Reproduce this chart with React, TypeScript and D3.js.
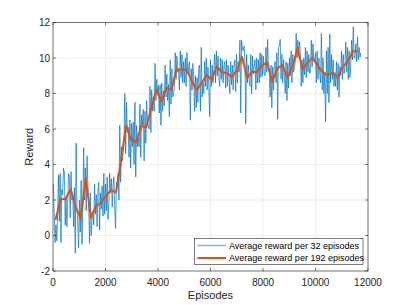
import React from "react";
import * as d3 from "d3";

const xTicks = [0, 2000, 4000, 6000, 8000, 10000, 12000];
const yTicks = [-2, 0, 2, 4, 6, 8, 10, 12];

// Average reward per 192 episodes (one value per 192-episode block)
const avg192 = [
  0.87, 2.04, 2.07, 2.62, 1.6, 0.95, 3.25, 1.0, 1.65, 1.85,
  2.2, 2.55, 2.43, 4.2, 6.2, 5.4, 5.25, 6.15, 6.1, 7.2,
  8.24, 7.56, 8.32, 8.2, 9.36, 9.35, 9.32, 8.75, 8.18, 8.6,
  9.04, 8.76, 9.52, 9.21, 9.14, 8.95, 9.3, 10.08, 8.87, 9.23,
  9.2, 9.6, 9.74, 8.66, 9.42, 9.6, 8.9, 9.48, 10.55, 9.36,
  9.74, 10.02, 9.55, 9.22, 9.04, 9.18, 8.9, 9.5, 9.8, 10.38,
  10.39,
];

// Average reward per 32 episodes
const avg32 = [
  2.9, 1.2, -0.4, 0.6, -0.3, 1.2,
  3.4, 0.8, 3.5, -0.4, 2.6, 2.3,
  3.8, 3.6, 0.6, 2.1, 0.5, 1.8,
  3.5, 3.3, 1.0, 3.6, 2.0, 2.3,
  0.5, 2.7, -1.0, 5.2, 1.6, 0.6,
  -0.7, 2.0, 0.2, 3.1, -0.5, 1.6,
  4.95, 2.0, 3.8, 1.4, 4.5, 2.85,
  1.8, -0.45, 2.4, 0.0, 0.9, 1.35,
  0.6, 2.9, 1.2, 2.3, 0.5, 2.4,
  3.0, 0.3, 2.4, 1.5, 2.8, 1.1,
  3.5, 1.2, 2.9, 1.4, 3.3, 0.9,
  1.8, 3.5, 2.4, 3.2, 1.6, 2.8,
  3.3, 1.5, 0.4, 3.0, 2.9, 3.5,
  2.0, 6.2, 3.0, 5.0, 4.2, 4.8,
  5.2, 8.0, 4.6, 7.5, 5.8, 6.1,
  4.4, 6.5, 3.8, 6.3, 5.0, 6.4,
  4.0, 7.5, 3.3, 6.2, 5.0, 5.5,
  5.0, 7.4, 4.4, 6.8, 6.2, 7.1,
  4.2, 7.0, 5.2, 7.6, 6.4, 6.2,
  6.0, 8.4, 5.8, 8.2, 7.0, 7.8,
  7.0, 9.7, 7.6, 8.8, 7.9, 8.44,
  6.9, 8.5, 6.2, 8.6, 7.0, 8.16,
  7.3, 9.6, 7.8, 9.1, 7.6, 8.52,
  6.7, 9.9, 7.4, 9.4, 7.8, 8.0,
  8.4, 10.3, 8.8, 10.1, 9.2, 9.36,
  8.2, 10.4, 8.9, 10.2, 8.6, 9.8,
  8.6, 10.0, 8.4, 10.3, 9.1, 9.52,
  9.8, 6.5, 9.4, 8.2, 9.7, 8.9,
  7.0, 9.0, 7.2, 8.9, 7.5, 9.48,
  9.6, 7.0, 10.6, 7.8, 8.6, 8.0,
  9.8, 8.4, 10.0, 8.2, 9.5, 8.34,
  6.7, 9.9, 8.4, 9.6, 8.6, 9.36,
  10.2, 8.6, 10.4, 9.0, 10.1, 8.82,
  8.4, 10.0, 8.8, 9.9, 8.6, 9.56,
  9.8, 8.3, 9.9, 8.4, 9.6, 8.84,
  8.0, 9.8, 8.5, 9.6, 8.2, 9.6,
  9.9, 8.1, 10.2, 8.6, 9.8, 9.2,
  11.0, 6.9, 11.0, 10.5, 10.4, 10.68,
  9.8, 6.3, 10.2, 8.6, 9.6, 8.72,
  8.4, 10.2, 8.0, 10.1, 9.1, 9.58,
  9.9, 8.2, 10.0, 8.6, 9.9, 8.6,
  10.3, 8.9, 10.2, 9.0, 10.1, 9.1,
  9.0, 10.6, 9.2, 11.05, 9.4, 9.19,
  7.8, 9.6, 7.2, 9.5, 8.2, 9.66,
  9.8, 8.6, 10.3, 6.55, 10.6, 10.67,
  11.05, 8.8, 10.2, 8.6, 9.9, 9.05,
  8.0, 9.8, 7.6, 9.7, 8.3, 10.0,
  9.0, 10.4, 8.6, 10.2, 9.2, 9.48,
  9.8, 11.39, 10.0, 11.0, 10.2, 10.91,
  10.2, 8.4, 9.9, 8.6, 10.0, 9.06,
  10.6, 8.9, 10.4, 9.2, 10.2, 9.14,
  9.2, 11.0, 9.5, 10.8, 9.8, 9.82,
  10.3, 8.6, 10.4, 8.8, 10.0, 9.2,
  8.6, 11.39, 8.2, 10.0, 8.0, 9.13,
  6.41, 10.4, 8.0, 10.6, 7.48, 11.35,
  8.6, 10.2, 8.8, 9.9, 8.4, 9.18,
  8.4, 9.8, 8.2, 9.7, 7.79, 9.51,
  9.0, 10.4, 8.8, 10.2, 9.1, 9.5,
  10.9, 9.2, 10.6, 8.8, 10.4, 8.9,
  9.6, 11.0, 9.9, 11.76, 10.0, 10.02,
  10.8, 9.8, 11.2, 9.9, 10.6, 10.04,
  10.3,
];

const legendLabels = [
  "Average reward per 32 episodes",
  "Average reward per 192 episodes",
];

const W = 407;
const H = 305;
const L = 53;
const R = 368;
const T = 22.5;
const B = 271;
const FONT = "'Liberation Sans', Arial, Helvetica, sans-serif";
const AX = "#262626";
const BLUE = "#0072BD";
const ORANGE = "#D95319";

export default function App() {
  const x = d3.scaleLinear().domain([0, 12000]).range([L, R]);
  const y = d3.scaleLinear().domain([-2, 12]).range([B, T]);

  const blueLine = d3
    .line<number>()
    .x((_, i) => x(16 + 32 * i))
    .y((d) => y(d));
  const orangeLine = d3
    .line<number>()
    .x((_, i) => x(96 + 192 * i))
    .y((d) => y(d));

  const tl = 3;

  return (
    <svg
      width={W}
      height={H}
      style={{ position: "absolute", left: 0, top: 0, background: "#fff" }}
    >
      <rect x={0} y={0} width={W} height={H} fill="#fff" />
      {/* grid */}
      {xTicks.map((t) => (
        <line key={"gx" + t} x1={x(t)} x2={x(t)} y1={T} y2={B} stroke="#e3e3e3" strokeWidth={0.6} />
      ))}
      {yTicks.map((t) => (
        <line key={"gy" + t} x1={L} x2={R} y1={y(t)} y2={y(t)} stroke="#e3e3e3" strokeWidth={0.6} />
      ))}
      {/* data */}
      <path d={blueLine(avg32) || ""} fill="none" stroke={BLUE} strokeWidth={0.7} strokeLinejoin="round" />
      <path d={orangeLine(avg192) || ""} fill="none" stroke={ORANGE} strokeWidth={2} strokeLinejoin="round" />
      {/* box */}
      <rect x={L} y={T} width={R - L} height={B - T} fill="none" stroke={AX} strokeWidth={0.6} />
      {/* ticks */}
      {xTicks.map((t) => (
        <g key={"tx" + t}>
          <line x1={x(t)} x2={x(t)} y1={B} y2={B - tl} stroke={AX} strokeWidth={0.6} />
          <line x1={x(t)} x2={x(t)} y1={T} y2={T + tl} stroke={AX} strokeWidth={0.6} />
          <text x={x(t)} y={286} textAnchor="middle" fontSize={10} fill={AX} fontFamily={FONT}>
            {t}
          </text>
        </g>
      ))}
      {yTicks.map((t) => (
        <g key={"ty" + t}>
          <line x1={L} x2={L + tl} y1={y(t)} y2={y(t)} stroke={AX} strokeWidth={0.6} />
          <line x1={R} x2={R - tl} y1={y(t)} y2={y(t)} stroke={AX} strokeWidth={0.6} />
          <text x={50} y={y(t) + 3.6} textAnchor="end" fontSize={10} fill={AX} fontFamily={FONT}>
            {t}
          </text>
        </g>
      ))}
      {/* axis labels */}
      <text x={(L + R) / 2} y={298.5} textAnchor="middle" fontSize={11} fill={AX} fontFamily={FONT}>
        Episodes
      </text>
      <text
        transform={`translate(33,${(T + B) / 2}) rotate(-90)`}
        textAnchor="middle"
        fontSize={11}
        fill={AX}
        fontFamily={FONT}
      >
        Reward
      </text>
      {/* legend */}
      <rect x={194.5} y={238.5} width={168.5} height={26} fill="#fff" stroke={AX} strokeWidth={0.6} />
      <line x1={197.5} x2={226} y1={245.5} y2={245.5} stroke="#7dbde9" strokeWidth={1.6} />
      <line x1={197.5} x2={226} y1={258} y2={258} stroke={ORANGE} strokeWidth={2} />
      {legendLabels.map((s, i) => (
        <text key={s} x={229} y={248.8 + i * 12.6} fontSize={9} fill="#000" fontFamily={FONT}>
          {s}
        </text>
      ))}
    </svg>
  );
}
